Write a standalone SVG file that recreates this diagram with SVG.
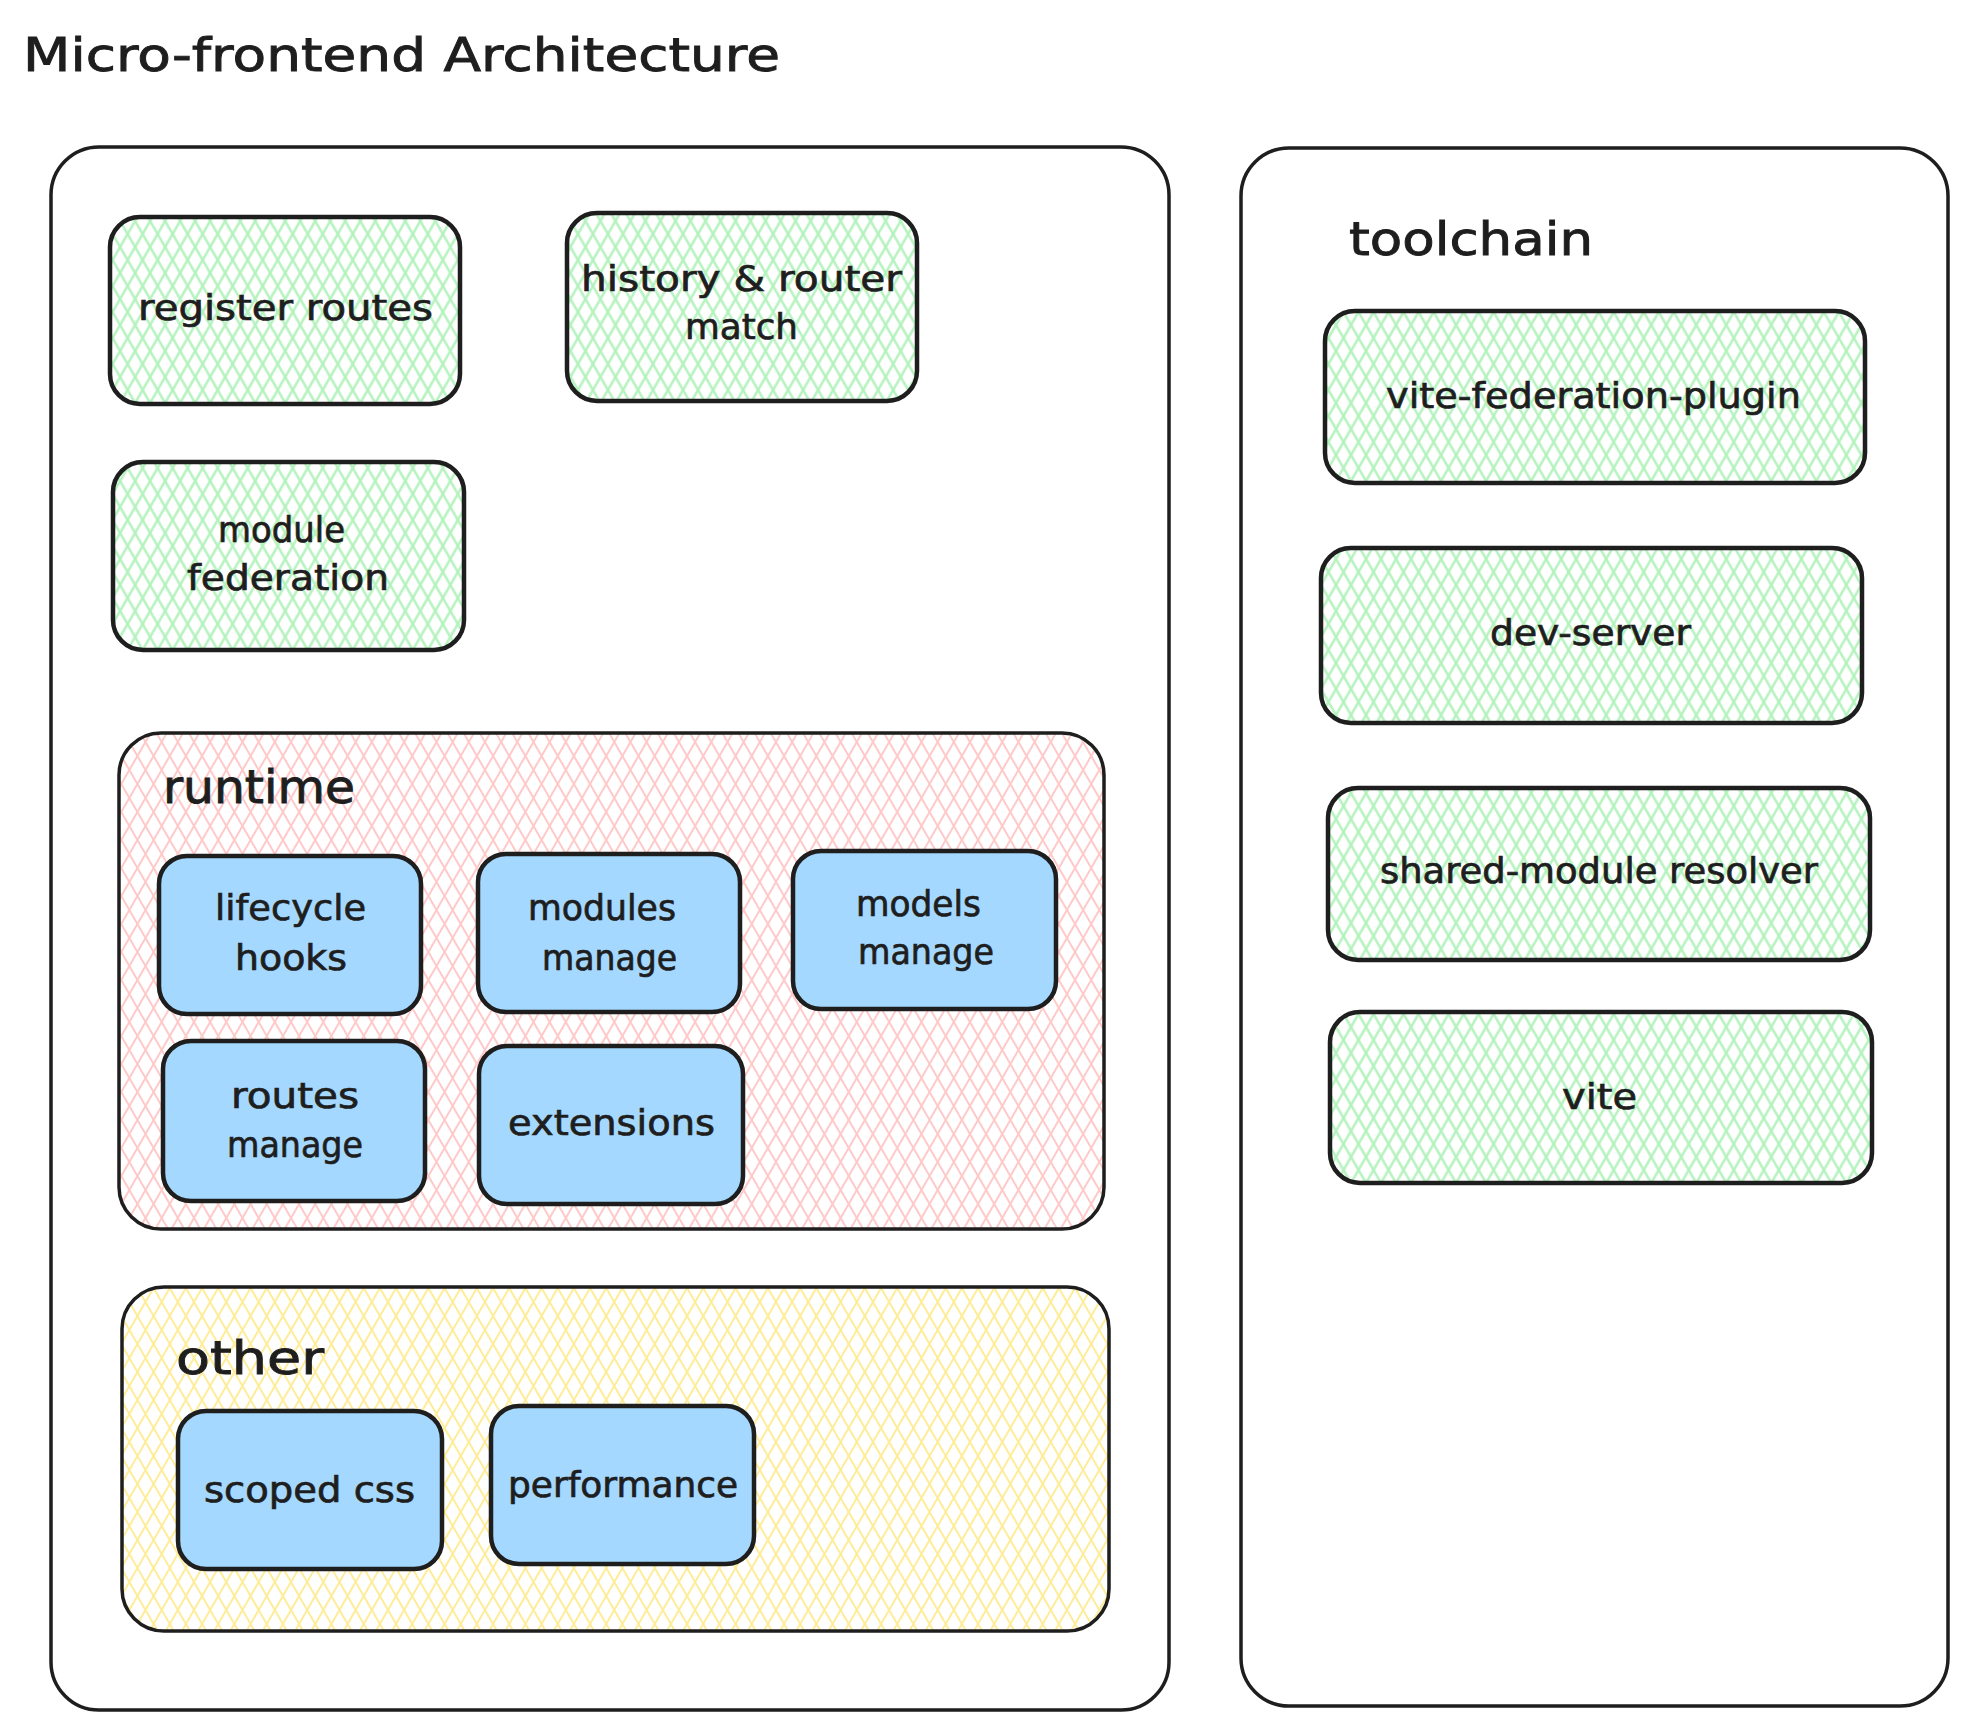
<svg xmlns="http://www.w3.org/2000/svg" width="1967" height="1730" viewBox="0 0 1967 1730">
<style>
.frame{fill:none;stroke:#1e1e1e;stroke-width:3.5}
.box{fill:none;stroke:#1e1e1e;stroke-width:4.5}
.blue{fill:#a5d8ff;stroke:#1e1e1e;stroke-width:4.5}
.t{font-family:"DejaVu Sans","Liberation Sans",sans-serif;fill:#1e1e1e;stroke:#1e1e1e;stroke-width:0.7;font-size:35px}
.h{font-family:"DejaVu Sans","Liberation Sans",sans-serif;fill:#1e1e1e;stroke:#1e1e1e;stroke-width:0.9;font-size:46px}
.g{fill:url(#g1)}.g2{fill:url(#g2)}
.p{fill:url(#p1)}.p2{fill:url(#p2)}
.y{fill:url(#y1)}.y2{fill:url(#y2)}
</style>
<defs>
<pattern id="g1" patternUnits="userSpaceOnUse" width="13" height="13" patternTransform="rotate(30)"><path d="M6.5 -2V15" stroke="#b2f2bb" stroke-width="2.4"/></pattern>
<pattern id="g2" patternUnits="userSpaceOnUse" width="13" height="13" patternTransform="rotate(-30)"><path d="M6.5 -2V15" stroke="#b2f2bb" stroke-width="2.4"/></pattern>
<pattern id="p1" patternUnits="userSpaceOnUse" width="14" height="14" patternTransform="rotate(30)"><path d="M7 -2V16" stroke="#ffc9c9" stroke-width="2"/></pattern>
<pattern id="p2" patternUnits="userSpaceOnUse" width="14" height="14" patternTransform="rotate(-30)"><path d="M7 -2V16" stroke="#ffc9c9" stroke-width="2"/></pattern>
<pattern id="y1" patternUnits="userSpaceOnUse" width="14" height="14" patternTransform="rotate(30)"><path d="M7 -2V16" stroke="#ffec99" stroke-width="2"/></pattern>
<pattern id="y2" patternUnits="userSpaceOnUse" width="14" height="14" patternTransform="rotate(-30)"><path d="M7 -2V16" stroke="#ffec99" stroke-width="2"/></pattern>
</defs>
<rect width="1967" height="1730" fill="#ffffff"/>

<g id="title">
<text class="h" x="23" y="71" textLength="757" lengthAdjust="spacingAndGlyphs">Micro-frontend Architecture</text>
</g>

<g id="main-container">
<rect class="frame" x="51" y="147" width="1118" height="1563" rx="48"/>
</g>

<g id="register-routes">
<rect class="g" x="110" y="217" width="350" height="187" rx="30"/>
<rect class="g2" x="110" y="217" width="350" height="187" rx="30"/>
<rect class="box" x="110" y="217" width="350" height="187" rx="30"/>
<text class="t" x="138" y="320" textLength="295" lengthAdjust="spacingAndGlyphs">register routes</text>
</g>

<g id="history-router-match">
<rect class="g" x="567" y="213" width="350" height="188" rx="30"/>
<rect class="g2" x="567" y="213" width="350" height="188" rx="30"/>
<rect class="box" x="567" y="213" width="350" height="188" rx="30"/>
<text class="t" x="581" y="291" textLength="321" lengthAdjust="spacingAndGlyphs">history &amp; router</text>
<text class="t" x="685" y="339" textLength="113" lengthAdjust="spacingAndGlyphs">match</text>
</g>

<g id="module-federation">
<rect class="g" x="113" y="462" width="351" height="188" rx="30"/>
<rect class="g2" x="113" y="462" width="351" height="188" rx="30"/>
<rect class="box" x="113" y="462" width="351" height="188" rx="30"/>
<text class="t" x="218" y="542" textLength="127" lengthAdjust="spacingAndGlyphs">module</text>
<text class="t" x="187" y="590" textLength="202" lengthAdjust="spacingAndGlyphs">federation</text>
</g>

<g id="runtime">
<rect class="p" x="119" y="733" width="985" height="496" rx="42"/>
<rect class="p2" x="119" y="733" width="985" height="496" rx="42"/>
<rect class="frame" x="119" y="733" width="985" height="496" rx="42"/>
<text class="h" x="163" y="803" textLength="192" lengthAdjust="spacingAndGlyphs">runtime</text>
</g>

<g id="lifecycle-hooks">
<rect class="blue" x="159" y="856" width="262" height="158" rx="28"/>
<text class="t" x="215" y="920" textLength="151" lengthAdjust="spacingAndGlyphs">lifecycle</text>
<text class="t" x="235" y="970" textLength="112" lengthAdjust="spacingAndGlyphs">hooks</text>
</g>

<g id="modules-manage">
<rect class="blue" x="478" y="854" width="262" height="158" rx="28"/>
<text class="t" x="528" y="920" textLength="148" lengthAdjust="spacingAndGlyphs">modules</text>
<text class="t" x="542" y="970" textLength="135" lengthAdjust="spacingAndGlyphs">manage</text>
</g>

<g id="models-manage">
<rect class="blue" x="793" y="851" width="263" height="158" rx="28"/>
<text class="t" x="856" y="916" textLength="125" lengthAdjust="spacingAndGlyphs">models</text>
<text class="t" x="858" y="964" textLength="136" lengthAdjust="spacingAndGlyphs">manage</text>
</g>

<g id="routes-manage">
<rect class="blue" x="163" y="1041" width="262" height="160" rx="28"/>
<text class="t" x="231" y="1108" textLength="128" lengthAdjust="spacingAndGlyphs">routes</text>
<text class="t" x="227" y="1157" textLength="136" lengthAdjust="spacingAndGlyphs">manage</text>
</g>

<g id="extensions">
<rect class="blue" x="479" y="1046" width="264" height="158" rx="28"/>
<text class="t" x="508" y="1135" textLength="207" lengthAdjust="spacingAndGlyphs">extensions</text>
</g>

<g id="other">
<rect class="y" x="122" y="1287" width="987" height="344" rx="42"/>
<rect class="y2" x="122" y="1287" width="987" height="344" rx="42"/>
<rect class="frame" x="122" y="1287" width="987" height="344" rx="42"/>
<text class="h" x="176" y="1374" textLength="148" lengthAdjust="spacingAndGlyphs">other</text>
</g>

<g id="scoped-css">
<rect class="blue" x="178" y="1411" width="264" height="158" rx="28"/>
<text class="t" x="204" y="1502" textLength="211" lengthAdjust="spacingAndGlyphs">scoped css</text>
</g>

<g id="performance">
<rect class="blue" x="491" y="1406" width="263" height="158" rx="28"/>
<text class="t" x="508" y="1497" textLength="230" lengthAdjust="spacingAndGlyphs">performance</text>
</g>

<g id="toolchain">
<rect class="frame" x="1241" y="148" width="707" height="1558" rx="48"/>
<text class="h" x="1349" y="255" textLength="244" lengthAdjust="spacingAndGlyphs">toolchain</text>
</g>

<g id="vite-federation-plugin">
<rect class="g" x="1325" y="311" width="540" height="172" rx="30"/>
<rect class="g2" x="1325" y="311" width="540" height="172" rx="30"/>
<rect class="box" x="1325" y="311" width="540" height="172" rx="30"/>
<text class="t" x="1386" y="408" textLength="415" lengthAdjust="spacingAndGlyphs">vite-federation-plugin</text>
</g>

<g id="dev-server">
<rect class="g" x="1321" y="548" width="541" height="175" rx="30"/>
<rect class="g2" x="1321" y="548" width="541" height="175" rx="30"/>
<rect class="box" x="1321" y="548" width="541" height="175" rx="30"/>
<text class="t" x="1490" y="645" textLength="201" lengthAdjust="spacingAndGlyphs">dev-server</text>
</g>

<g id="shared-module-resolver">
<rect class="g" x="1328" y="788" width="542" height="172" rx="30"/>
<rect class="g2" x="1328" y="788" width="542" height="172" rx="30"/>
<rect class="box" x="1328" y="788" width="542" height="172" rx="30"/>
<text class="t" x="1380" y="883" textLength="438" lengthAdjust="spacingAndGlyphs">shared-module resolver</text>
</g>

<g id="vite">
<rect class="g" x="1330" y="1012" width="542" height="171" rx="30"/>
<rect class="g2" x="1330" y="1012" width="542" height="171" rx="30"/>
<rect class="box" x="1330" y="1012" width="542" height="171" rx="30"/>
<text class="t" x="1562" y="1109" textLength="75" lengthAdjust="spacingAndGlyphs">vite</text>
</g>

<g id="connectors"></g>
</svg>
